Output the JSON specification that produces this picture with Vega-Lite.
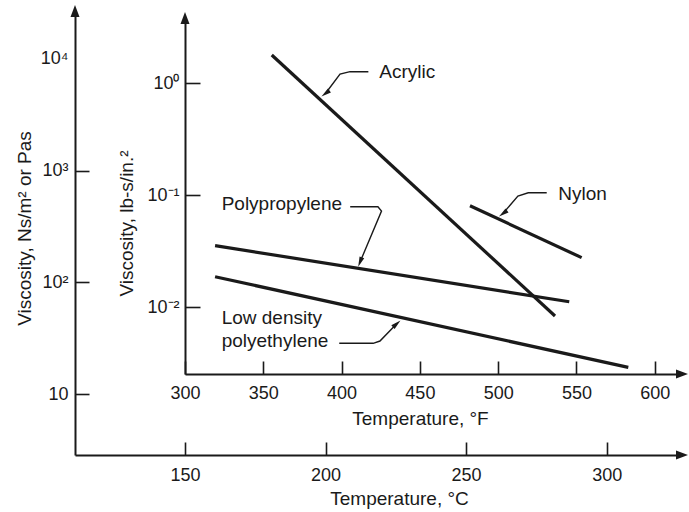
{
  "$schema": "https://vega.github.io/schema/vega-lite/v6.json",
  "width": 607,
  "height": 444,
  "autosize": "none",
  "padding": {"left": 75, "top": 11, "right": 7, "bottom": 57},
  "background": "white",
  "config": {
    "view": {"stroke": null},
    "font": "Liberation Sans",
    "axis": {
      "grid": false,
      "domainColor": "#1a1a1a",
      "domainWidth": 2,
      "tickColor": "#1a1a1a",
      "tickWidth": 1.6,
      "labelFont": "Liberation Sans",
      "labelFontSize": 18,
      "labelColor": "#1a1a1a",
      "titleFont": "Liberation Sans",
      "titleFontSize": 19,
      "titleFontWeight": "normal",
      "titleColor": "#1a1a1a",
      "labelFlush": false,
      "labelOverlap": false
    }
  },
  "layer": [
    {
      "data": {"values": [
        {"C": 326.8, "Pa": 2.859, "end": "x"},
        {"C": 110.87, "Pa": 26760, "end": "y"}
      ]},
      "encoding": {
        "x": {
          "field": "C", "type": "quantitative",
          "scale": {"domain": [110.87, 326.8], "nice": false, "zero": false},
          "axis": {
            "orient": "bottom", "values": [150, 200, 250, 300],
            "tickSize": -13, "labelPadding": 33, "labelBaseline": "middle",
            "title": "Temperature, °C", "titleX": 324, "titleY": 43,
            "titleBaseline": "middle", "titleAlign": "center"
          }
        },
        "y": {
          "field": "Pa", "type": "quantitative",
          "scale": {"type": "log", "domain": [2.859, 26760], "nice": false},
          "axis": {
            "orient": "left", "values": [10, 100, 1000, 10000],
            "tickSize": -14, "labelPadding": 21, "labelBaseline": "middle",
            "labelExpr": "datum.value < 50 ? '10' : datum.value < 500 ? '10²' : datum.value < 5000 ? '10³' : '10⁴'",
            "tickOpacity": {"condition": {"test": "datum.value > 5000", "value": 0}, "value": 1},
            "title": "Viscosity, Ns/m² or Pas", "titleX": -51, "titleY": 217,
            "titleAngle": 270, "titleBaseline": "middle", "titleAlign": "center"
          }
        }
      },
      "layer": [
        {
          "transform": [{"filter": "datum.end == 'x'"}],
          "mark": {"type": "point", "shape": "M1,0L-1,-0.75L-1,0.75Z", "size": 144, "filled": true, "color": "#1a1a1a", "opacity": 1, "angle": 0}
        },
        {
          "transform": [{"filter": "datum.end == 'y'"}],
          "mark": {"type": "point", "shape": "M1,0L-1,-0.75L-1,0.75Z", "size": 144, "filled": true, "color": "#1a1a1a", "opacity": 1, "angle": 270}
        }
      ]
    },
    {
      "data": {"values": [
        {"kind": "curve", "series": "Acrylic", "F": 355.4, "visc": 1.778, "o": 1},
        {"kind": "curve", "series": "Acrylic", "F": 536.3, "visc": 0.00832, "o": 2},
        {"kind": "curve", "series": "Nylon", "F": 482.0, "visc": 0.0802, "o": 1},
        {"kind": "curve", "series": "Nylon", "F": 553.3, "visc": 0.0276, "o": 2},
        {"kind": "curve", "series": "Polypropylene", "F": 319.2, "visc": 0.0353, "o": 1},
        {"kind": "curve", "series": "Polypropylene", "F": 545.4, "visc": 0.01115, "o": 2},
        {"kind": "curve", "series": "Low density polyethylene", "F": 319.2, "visc": 0.01865, "o": 1},
        {"kind": "curve", "series": "Low density polyethylene", "F": 583.1, "visc": 0.00289, "o": 2},

        {"kind": "leader", "series": "Acrylic", "F": 417.1, "visc": 1.262, "o": 1},
        {"kind": "leader", "series": "Acrylic", "F": 405.4, "visc": 1.262, "o": 2},
        {"kind": "leader", "series": "Acrylic", "F": 399.0, "visc": 1.203, "o": 3},
        {"kind": "leader", "series": "Acrylic", "F": 389.7, "visc": 0.806, "o": 4},
        {"kind": "leader", "series": "Nylon", "F": 531.0, "visc": 0.1048, "o": 1},
        {"kind": "leader", "series": "Nylon", "F": 519.2, "visc": 0.1048, "o": 2},
        {"kind": "leader", "series": "Nylon", "F": 512.6, "visc": 0.098, "o": 3},
        {"kind": "leader", "series": "Nylon", "F": 503.1, "visc": 0.0684, "o": 4},
        {"kind": "leader", "series": "Polypropylene", "F": 405.5, "visc": 0.07862, "o": 1},
        {"kind": "leader", "series": "Polypropylene", "F": 423.2, "visc": 0.07862, "o": 2},
        {"kind": "leader", "series": "Polypropylene", "F": 425.5, "visc": 0.07197, "o": 3},
        {"kind": "leader", "series": "Polypropylene", "F": 411.8, "visc": 0.02522, "o": 4},
        {"kind": "leader", "series": "Low density polyethylene", "F": 398.5, "visc": 0.004742, "o": 1},
        {"kind": "leader", "series": "Low density polyethylene", "F": 420.2, "visc": 0.004742, "o": 2},
        {"kind": "leader", "series": "Low density polyethylene", "F": 424.5, "visc": 0.00497, "o": 3},
        {"kind": "leader", "series": "Low density polyethylene", "F": 435.2, "visc": 0.00708, "o": 4},

        {"kind": "head", "series": "Acrylic", "F": 389.7, "visc": 0.806},
        {"kind": "head", "series": "Nylon", "F": 503.1, "visc": 0.0684},
        {"kind": "head", "series": "Polypropylene", "F": 411.8, "visc": 0.02522},
        {"kind": "head", "series": "Low density polyethylene", "F": 435.2, "visc": 0.00708},

        {"kind": "label", "text": "Acrylic", "F": 424.1, "visc": 1.262},
        {"kind": "label", "text": "Nylon", "F": 538.4, "visc": 0.1027},
        {"kind": "label", "text": "Polypropylene", "F": 323.4, "visc": 0.08276},
        {"kind": "label", "text": "Low density", "F": 323.4, "visc": 0.00793},
        {"kind": "label", "text": "polyethylene", "F": 323.4, "visc": 0.005},

        {"kind": "xend", "F": 617.4, "visc": 0.002523},
        {"kind": "yend", "F": 300, "visc": 3.805}
      ]},
      "encoding": {
        "x": {
          "field": "F", "type": "quantitative",
          "scale": {"domain": [300, 617.4], "range": [110, 607], "nice": false, "zero": false},
          "axis": {
            "orient": "bottom", "offset": -81, "values": [300, 350, 400, 450, 500, 550, 600],
            "tickSize": -13, "labelPadding": 32, "labelBaseline": "middle",
            "title": "Temperature, °F", "titleX": 345, "titleY": 44,
            "titleBaseline": "middle", "titleAlign": "center"
          }
        },
        "y": {
          "field": "visc", "type": "quantitative",
          "scale": {"type": "log", "domain": [0.002523, 3.805], "range": [363, 7], "nice": false},
          "axis": {
            "orient": "left", "offset": -110, "values": [0.01, 0.1, 1],
            "tickSize": -15, "labelPadding": 21, "labelBaseline": "middle",
            "labelExpr": "datum.value < 0.05 ? '10⁻²' : datum.value < 0.5 ? '10⁻¹' : '10⁰'",
            "title": "Viscosity, lb-s/in.²", "titleX": -59, "titleY": 212,
            "titleAngle": 270, "titleBaseline": "middle", "titleAlign": "center"
          }
        }
      },
      "layer": [
        {
          "transform": [{"filter": "datum.kind == 'curve'"}],
          "mark": {"type": "line", "color": "#1a1a1a", "strokeWidth": 3.2},
          "encoding": {"detail": {"field": "series"}, "order": {"field": "o"}}
        },
        {
          "transform": [{"filter": "datum.kind == 'leader'"}],
          "mark": {"type": "line", "color": "#1a1a1a", "strokeWidth": 1.4},
          "encoding": {"detail": {"field": "series"}, "order": {"field": "o"}}
        },
        {
          "transform": [{"filter": "datum.kind == 'head' && (datum.series == 'Acrylic' || datum.series == 'Nylon')"}],
          "mark": {"type": "point", "shape": "M1,0L-1,-0.5L-1,0.5Z", "size": 100, "filled": true, "color": "#1a1a1a", "opacity": 1, "angle": 143.7}
        },
        {
          "transform": [{"filter": "datum.kind == 'head' && datum.series == 'Polypropylene'"}],
          "mark": {"type": "point", "shape": "M1,0L-1,-0.5L-1,0.5Z", "size": 100, "filled": true, "color": "#1a1a1a", "opacity": 1, "angle": 111.3}
        },
        {
          "transform": [{"filter": "datum.kind == 'head' && datum.series == 'Low density polyethylene'"}],
          "mark": {"type": "point", "shape": "M1,0L-1,-0.5L-1,0.5Z", "size": 100, "filled": true, "color": "#1a1a1a", "opacity": 1, "angle": 318.6}
        },
        {
          "transform": [{"filter": "datum.kind == 'label'"}],
          "mark": {"type": "text", "align": "left", "baseline": "middle", "fontSize": 19, "font": "Liberation Sans", "color": "#1a1a1a"},
          "encoding": {"text": {"field": "text"}}
        },
        {
          "transform": [{"filter": "datum.kind == 'xend'"}],
          "mark": {"type": "point", "shape": "M1,0L-1,-0.75L-1,0.75Z", "size": 144, "filled": true, "color": "#1a1a1a", "opacity": 1, "angle": 0}
        },
        {
          "transform": [{"filter": "datum.kind == 'yend'"}],
          "mark": {"type": "point", "shape": "M1,0L-1,-0.75L-1,0.75Z", "size": 144, "filled": true, "color": "#1a1a1a", "opacity": 1, "angle": 270}
        }
      ]
    }
  ],
  "resolve": {
    "scale": {"x": "independent", "y": "independent"},
    "axis": {"x": "independent", "y": "independent"}
  }
}
